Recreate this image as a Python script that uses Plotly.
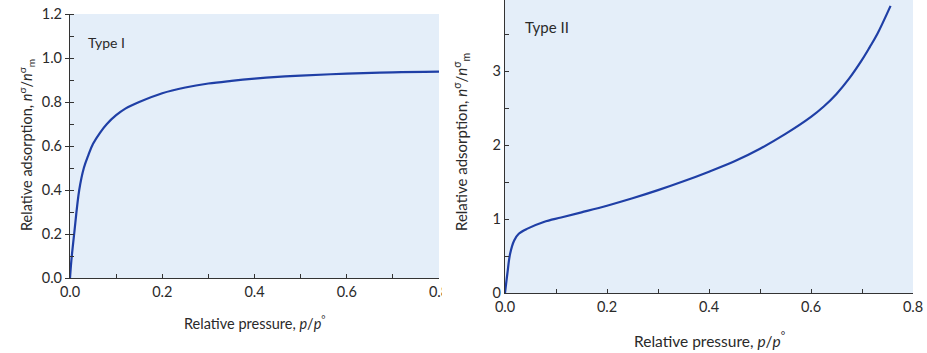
import plotly.graph_objects as go

# Type I isotherm
p_type1 = [0.0, 0.003, 0.009, 0.02, 0.03, 0.04, 0.05, 0.065, 0.08, 0.1, 0.12, 0.15, 0.2, 0.25, 0.3, 0.35, 0.4, 0.45, 0.5, 0.6, 0.7, 0.8]
n_type1 = [0.0, 0.08, 0.2, 0.40, 0.50, 0.56, 0.61, 0.66, 0.70, 0.74, 0.77, 0.80, 0.84, 0.866, 0.884, 0.896, 0.906, 0.914, 0.92, 0.929, 0.935, 0.938]

# Type II isotherm
p_type2 = [0.0, 0.0046, 0.01, 0.018, 0.027, 0.044, 0.076, 0.11, 0.15, 0.2, 0.25, 0.3, 0.35, 0.4, 0.45, 0.5, 0.55, 0.6, 0.625, 0.65, 0.675, 0.7, 0.715, 0.73, 0.756]
n_type2 = [0.0, 0.26, 0.53, 0.71, 0.80, 0.87, 0.96, 1.02, 1.09, 1.18, 1.28, 1.39, 1.51, 1.64, 1.78, 1.95, 2.15, 2.38, 2.52, 2.69, 2.90, 3.15, 3.32, 3.50, 3.88]

x1_ticks = [0.0, 0.2, 0.4, 0.6, 0.8]
x1_ticktext = ["0.0", "0.2", "0.4", "0.6", "0.8"]
y1_ticks = [0.0, 0.2, 0.4, 0.6, 0.8, 1.0, 1.2]
y1_ticktext = ["0.0", "0.2", "0.4", "0.6", "0.8", "1.0", "1.2"]
x2_ticks = [0.0, 0.2, 0.4, 0.6, 0.8]
x2_ticktext = ["0.0", "0.2", "0.4", "0.6", "0.8"]
y2_ticks = [0, 1, 2, 3]
y2_ticktext = ["0", "1", "2", "3"]

W, H = 927, 353
FONT = "Lato"
TXT = "#2a2a2a"
LINE = "#1f3fa6"
BG = "#e4eef9"

def px(x):
    return x / W

def py(y):
    return 1 - y / H

fig = go.Figure()
fig.add_trace(go.Scatter(x=p_type1, y=n_type1, mode="lines", line=dict(color=LINE, width=2.2, shape="spline", smoothing=1.0),
                         xaxis="x", yaxis="y", showlegend=False, hoverinfo="skip"))
fig.add_trace(go.Scatter(x=p_type2, y=n_type2, mode="lines", line=dict(color=LINE, width=2.2, shape="spline", smoothing=1.0),
                         xaxis="x2", yaxis="y2", showlegend=False, hoverinfo="skip"))

axis_common = dict(showgrid=False, zeroline=False, showline=True, linecolor="#333333", linewidth=1.2,
                   tickfont=dict(family=FONT, size=14.5, color=TXT), tickcolor="#333333", ticklen=4,
                   automargin=False, fixedrange=True, ticklabeloverflow="allow")

fig.update_layout(
    width=W, height=H,
    margin=dict(l=0, r=0, t=0, b=0, autoexpand=False),
    paper_bgcolor="white",
    plot_bgcolor=BG,
    font=dict(family=FONT, color=TXT),
    xaxis=dict(domain=[px(70), px(439)], range=[0, 0.8], anchor="y",
               tickmode="array", tickvals=x1_ticks, ticktext=x1_ticktext, ticks="inside",
               minor=dict(dtick=0.1, ticks="inside", ticklen=4, tickcolor="#333333"), **axis_common),
    yaxis=dict(domain=[py(278), py(14)], range=[0, 1.2], anchor="x",
               tickmode="array", tickvals=y1_ticks, ticktext=y1_ticktext, ticks="outside",
               minor=dict(dtick=0.1, ticks="inside", ticklen=4, tickcolor="#333333"), **axis_common),
    xaxis2=dict(domain=[px(505), px(913)], range=[0, 0.8], anchor="y2",
                tickmode="array", tickvals=x2_ticks, ticktext=x2_ticktext, ticks="inside",
                minor=dict(dtick=0.1, ticks="inside", ticklen=4, tickcolor="#333333"), **axis_common),
    yaxis2=dict(domain=[py(293), 1.0], range=[0, 3.96], anchor="x2",
                tickmode="array", tickvals=y2_ticks, ticktext=y2_ticktext, ticks="inside",
                minor=dict(dtick=0.5, ticks="inside", ticklen=4, tickcolor="#333333"), **axis_common),
)

# cover the clipped part of the left "0.8" label, as in the reference scan
fig.add_shape(type="rect", xref="paper", yref="paper", x0=px(442), x1=px(462), y0=py(312), y1=py(281),
              fillcolor="white", line=dict(width=0), layer="above")

ytitle = "Relative adsorption, <i>n</i><sup>σ</sup>/<i>n</i><sup>σ</sup><sub>m</sub>"
xtitle = "Relative pressure, <i>p</i>/<i>p</i><sup>°</sup>"

annos = [
    dict(x=px(26), y=py(145), text=ytitle, textangle=-90, size=14.5),
    dict(x=px(461), y=py(142), text=ytitle, textangle=-90, size=15),
    dict(x=px(255), y=py(322), text=xtitle, textangle=0, size=14.5),
    dict(x=px(710), y=py(339), text=xtitle, textangle=0, size=15.5),
    dict(x=px(106), y=py(42), text="Type I", textangle=0, size=14),
    dict(x=px(547), y=py(27), text="Type II", textangle=0, size=15),
]
for a in annos:
    fig.add_annotation(x=a["x"], y=a["y"], xref="paper", yref="paper", text=a["text"], textangle=a["textangle"],
                       showarrow=False, xanchor="center", yanchor="middle",
                       font=dict(family=FONT, size=a["size"], color=TXT))

fig.write_html("out.html", config={"displayModeBar": False},
               post_script="document.body.style.margin='0';document.body.style.overflow='hidden';")
